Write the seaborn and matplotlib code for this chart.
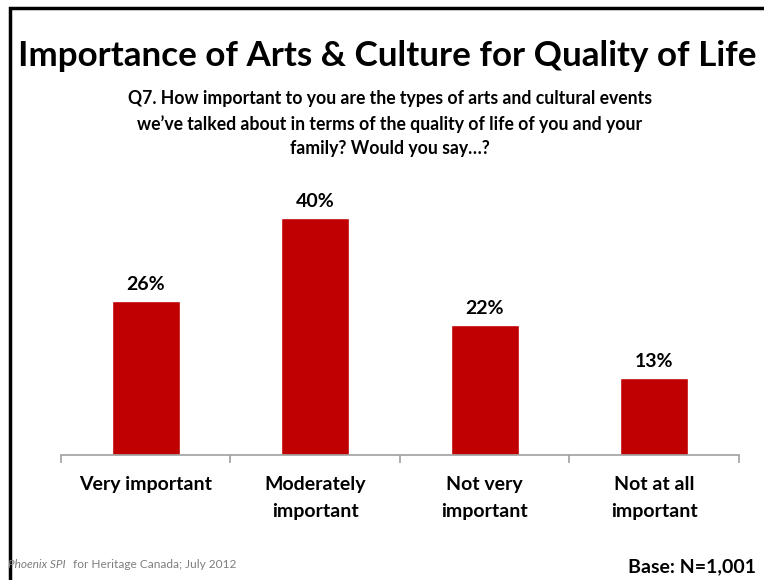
import pandas as pd
import matplotlib.pyplot as plt
import seaborn as sns
from matplotlib.patches import Rectangle

# survey results
categories = ['Very important', 'Moderately\nimportant', 'Not very\nimportant', 'Not at all\nimportant']
shares = [26, 40, 22, 13]

title = 'Importance of Arts & Culture for Quality of Life'
question = ('Q7. How important to you are the types of arts and cultural events\n'
            'we\u2019ve talked about in terms of the quality of life of you and your\n'
            'family? Would you say\u2026?')

sns.set_style('white')
plt.rcParams['font.family'] = ['Lato', 'DejaVu Sans']

df = pd.DataFrame({'answer': categories, 'pct': shares})

fig = plt.figure(figsize=(7.64, 5.80), dpi=100)
ax = fig.add_axes([0.0798, 0.2155, 0.8874, 0.49])

sns.barplot(x='answer', y='pct', data=df, color='#C00000', width=0.40,
            saturation=1, ax=ax)

for i, v in enumerate(shares):
    ax.text(i, v + 1.3, f'{v}%', ha='center', va='bottom',
            fontsize=14, fontweight='bold', color='black')

ax.set_ylim(0, 48)
ax.set_xlim(-0.5, len(categories) - 0.5)
ax.set_yticks([])
ax.set_xlabel('')
ax.set_ylabel('')
for side in ['top', 'right', 'left']:
    ax.spines[side].set_visible(False)
ax.spines['bottom'].set_color('#A0A0A0')
ax.spines['bottom'].set_linewidth(1.2)

# tick marks sit between the categories
ax.set_xticks([x - 0.5 for x in range(len(categories) + 1)], minor=True)
ax.tick_params(axis='x', which='minor', bottom=True, length=6, color='#A0A0A0',
               width=1.2, direction='out')
ax.tick_params(axis='x', which='major', bottom=True, length=0, pad=15)
ax.set_xticks(range(len(categories)))
ax.set_xticklabels(categories, fontsize=14, fontweight='bold', linespacing=1.7,
                   color='black')

fig.text(0.507, 0.903, title, ha='center', va='center', fontsize=25.2,
         fontweight='bold', color='black')
fig.text(0.510, 0.787, question, ha='center', va='center', fontsize=12.7,
         fontweight='bold', linespacing=1.5, color='black')

fig.text(0.011, 0.026, 'Phoenix SPI', ha='left', va='center', fontsize=8.6,
         style='italic', color='#7F7F7F')
fig.text(0.095, 0.026, 'for Heritage Canada; July 2012', ha='left', va='center',
         fontsize=8.6, color='#7F7F7F')
fig.text(0.822, 0.022, 'Base: N=1,001', ha='left', va='center', fontsize=14,
         fontweight='bold', color='black')

# slide border
fig.patches.append(Rectangle((0.013, -0.05), 1.1, 1.037, transform=fig.transFigure,
                             fill=False, edgecolor='black', linewidth=2.5))

plt.savefig('out.png', dpi=100)
